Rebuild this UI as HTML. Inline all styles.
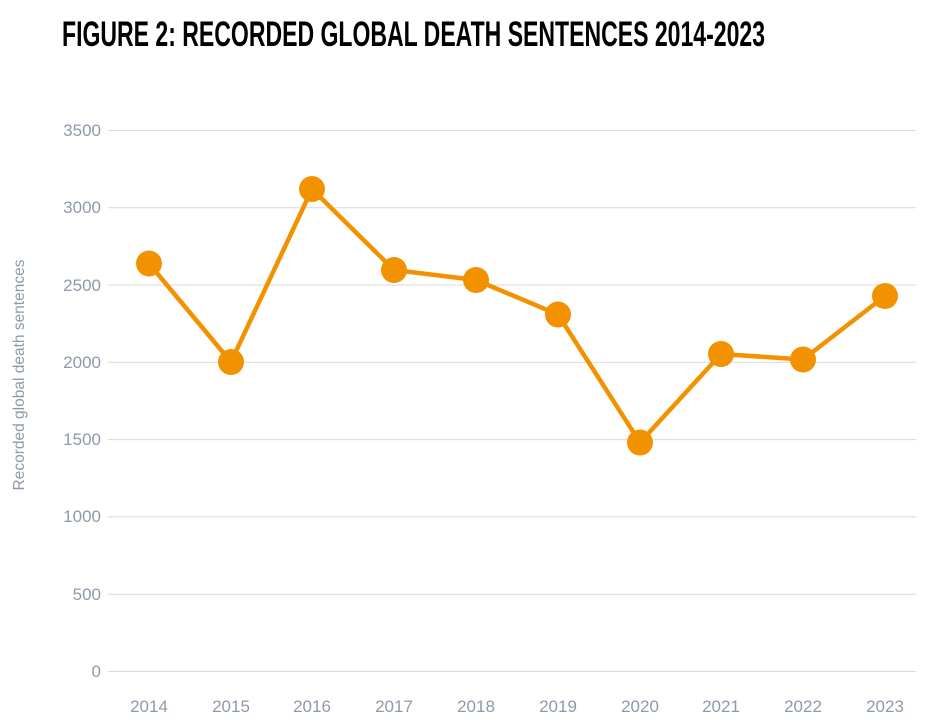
<!DOCTYPE html>
<html><head><meta charset="utf-8"><style>html,body{margin:0;padding:0;background:#fff}</style></head>
<body>
<svg width="944" height="722" viewBox="0 0 944 722" xmlns="http://www.w3.org/2000/svg">
<text x="62" y="46" font-family="Liberation Sans Narrow, Liberation Sans, sans-serif" font-weight="bold" font-size="35" fill="#000" textLength="703" lengthAdjust="spacingAndGlyphs">FIGURE 2: RECORDED GLOBAL DEATH SENTENCES 2014-2023</text>
<g stroke="#d9d9d9" stroke-width="1">
<line x1="108" x2="916" y1="130.5" y2="130.5"/><line x1="108" x2="916" y1="207.8" y2="207.8"/>
<line x1="108" x2="916" y1="285" y2="285"/><line x1="108" x2="916" y1="362.3" y2="362.3"/>
<line x1="108" x2="916" y1="439.6" y2="439.6"/><line x1="108" x2="916" y1="516.9" y2="516.9"/>
<line x1="108" x2="916" y1="594.2" y2="594.2"/><line x1="108" x2="916" y1="671.5" y2="671.5"/>
</g>
<g font-family="Liberation Sans, sans-serif" font-size="17" fill="#8e9aab" text-anchor="end">
<text x="101" y="136">3500</text><text x="101" y="213">3000</text><text x="101" y="291">2500</text>
<text x="101" y="368">2000</text><text x="101" y="445">1500</text><text x="101" y="522">1000</text>
<text x="101" y="600">500</text><text x="101" y="677">0</text>
</g>
<g font-family="Liberation Sans, sans-serif" font-size="17" fill="#8e9aab" text-anchor="middle">
<text x="149" y="712">2014</text><text x="231" y="712">2015</text><text x="312" y="712">2016</text>
<text x="394" y="712">2017</text><text x="476" y="712">2018</text><text x="558" y="712">2019</text>
<text x="640" y="712">2020</text><text x="721" y="712">2021</text><text x="803" y="712">2022</text>
<text x="885" y="712">2023</text>
</g>
<text transform="translate(24,375) rotate(-90)" font-family="Liberation Sans, sans-serif" font-size="15.5" fill="#8e9aab" text-anchor="middle">Recorded global death sentences</text>
<polyline fill="none" stroke="#f39200" stroke-width="4.5" stroke-linejoin="round" points="149,263.5 231,362 312,189 394,270 476,280 558,314.5 640,442.5 721,354 803,359.5 885,296"/>
<g fill="#f39200">
<circle cx="149" cy="263.5" r="13"/><circle cx="231" cy="362" r="13"/><circle cx="312" cy="189" r="13"/>
<circle cx="394" cy="270" r="13"/><circle cx="476" cy="280" r="13"/><circle cx="558" cy="314.5" r="13"/>
<circle cx="640" cy="442.5" r="13"/><circle cx="721" cy="354" r="13"/><circle cx="803" cy="359.5" r="13"/>
<circle cx="885" cy="296" r="13"/>
</g>
</svg>
</body></html>
